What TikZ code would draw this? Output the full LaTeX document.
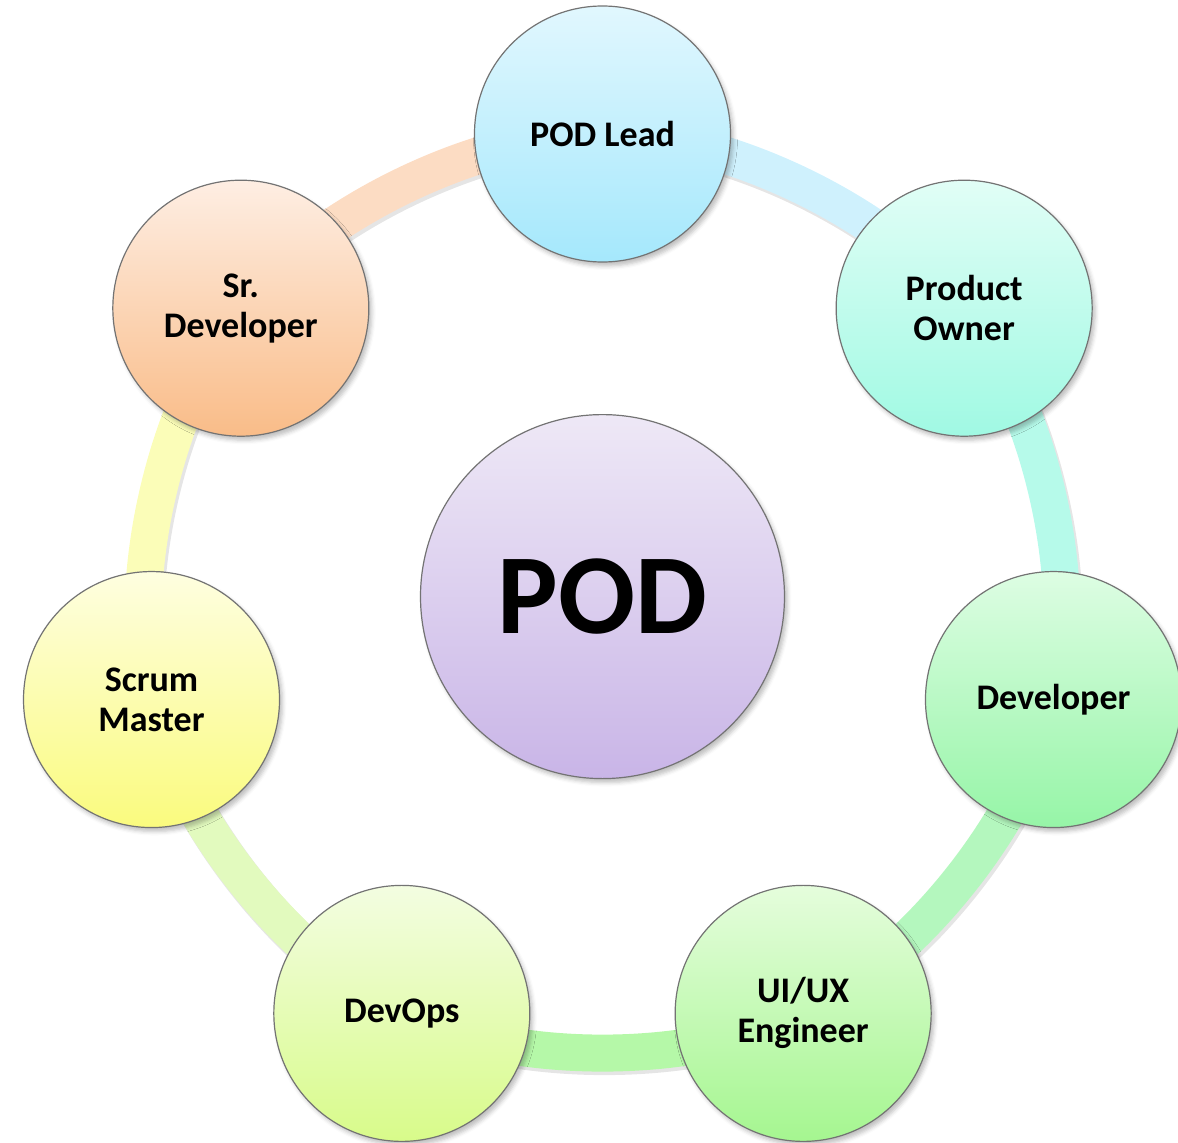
\documentclass[tikz,border=0pt]{standalone}
\usepackage{fontspec}
\setmainfont{Carlito}
\usetikzlibrary{shadows.blur,backgrounds}

\definecolor{leadtop}{HTML}{E1F7FE}   \definecolor{leadbot}{HTML}{A5E8FC}
\definecolor{ownertop}{HTML}{E1FEF6}  \definecolor{ownerbot}{HTML}{A0F9E3}
\definecolor{devtop}{HTML}{DDFDE3}    \definecolor{devbot}{HTML}{96F5A7}
\definecolor{uxtop}{HTML}{E5FDDC}     \definecolor{uxbot}{HTML}{A5F690}
\definecolor{opstop}{HTML}{F3FDE1}    \definecolor{opsbot}{HTML}{D8FB8A}
\definecolor{scrumtop}{HTML}{FEFEE0}  \definecolor{scrumbot}{HTML}{FAFB7E}
\definecolor{srtop}{HTML}{FEEEE3}     \definecolor{srbot}{HTML}{F9BC88}
\definecolor{podtop}{HTML}{EEE8F6}    \definecolor{podbot}{HTML}{C9B5E7}

\begin{document}
\begin{tikzpicture}[x=0.5pt, y=0.5pt,
    role/.style={circle, draw=black!55, line width=0.6pt, minimum size=128pt, inner sep=0pt,
        align=center, font=\fontsize{18pt}{20pt}\selectfont\bfseries,
        blur shadow={shadow xshift=1.5pt, shadow yshift=-2pt, shadow blur radius=2pt, shadow opacity=25}},
    band/.style={line width=18.5pt, bend left=25.7, looseness=0.78,
        preaction={draw=black, opacity=0.10, line width=19pt, transform canvas={xshift=1pt, yshift=-1.5pt}}}]
    \useasboundingbox (-602.5,-545.4) rectangle (575.5,596.6);

    \node[role, top color=leadtop, bottom color=leadbot] (lead) at (90:462.6) {POD Lead};
    \node[role, top color=ownertop, bottom color=ownerbot] (owner) at (38.57:462.6) {Product\\Owner};
    \node[role, top color=devtop, bottom color=devbot] (dev) at (-12.86:462.6) {Developer};
    \node[role, top color=uxtop, bottom color=uxbot] (uiux) at (-64.29:462.6) {UI/UX\\Engineer};
    \node[role, top color=opstop, bottom color=opsbot] (devops) at (-115.71:462.6) {DevOps};
    \node[role, top color=scrumtop, bottom color=scrumbot] (scrum) at (-167.14:462.6) {Scrum\\Master};
    \node[role, top color=srtop, bottom color=srbot] (srdev) at (141.43:462.6) {Sr.\\Developer};

    \node[role, minimum size=182pt, top color=podtop, bottom color=podbot,
        font=\fontsize{57pt}{60pt}\selectfont\bfseries] (pod) at (0,0) {POD};

    \begin{pgfonlayer}{background}
    \draw[band, draw={rgb,255:red,252;green,220;blue,195}] (srdev.center) to (lead.center);
    \draw[band, draw={rgb,255:red,207;green,241;blue,253}] (lead.center) to (owner.center);
    \draw[band, draw={rgb,255:red,182;green,250;blue,234}] (owner.center) to (dev.center);
    \draw[band, draw={rgb,255:red,180;green,247;blue,190}] (dev.center) to (uiux.center);
    \draw[band, draw={rgb,255:red,181;green,248;blue,168}] (uiux.center) to (devops.center);
    \draw[band, draw={rgb,255:red,226;green,250;blue,190}] (devops.center) to (scrum.center);
    \draw[band, draw={rgb,255:red,251;green,253;blue,184}] (scrum.center) to (srdev.center);
    \end{pgfonlayer}
\end{tikzpicture}
\end{document}
